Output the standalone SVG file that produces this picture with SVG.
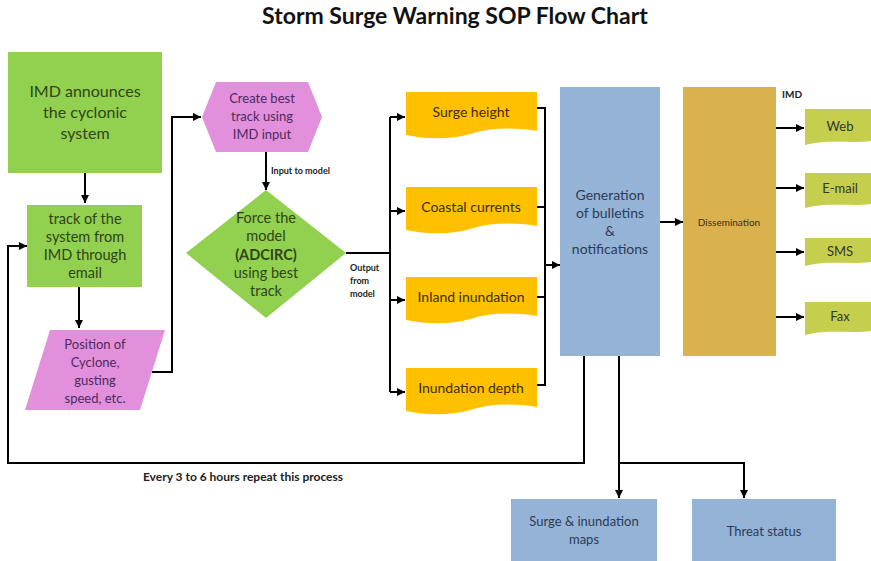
<svg xmlns="http://www.w3.org/2000/svg" width="871" height="561" viewBox="0 0 871 561">
<defs>
<marker id="ah" viewBox="0 0 10 10" refX="10" refY="5" markerWidth="8" markerHeight="8" markerUnits="userSpaceOnUse" orient="auto">
<path d="M0,0 L10,5 L0,10 z" fill="#000"/>
</marker>
<style>
text{font-family:Lato,"Open Sans","Liberation Sans",sans-serif;text-anchor:middle}
.c{fill:none;stroke:#000;stroke-width:2}
.a{marker-end:url(#ah)}
.g{fill:#92d050}
.gt{fill:#2f4419;font-size:14.5px}
.p{fill:#e290dc}
.pt{fill:#4b2a5e;font-size:13px}
.y{fill:#ffc000}
.yt{fill:#3a2f00;font-size:14px}
.b{fill:#95b3d7}
.bt{fill:#2b3b55;font-size:14px}
.o{fill:#c6cf4d}
.ot{fill:#333;font-size:13px}
.sm{font-size:9px;font-weight:bold;fill:#222;text-anchor:start}
</style>
</defs>
<rect width="871" height="561" fill="#fff"/>
<text x="455" y="24" style="font-size:23px;font-weight:bold" fill="#111">Storm Surge Warning SOP Flow Chart</text>

<g id="connectors">
<line class="c a" x1="85" y1="173" x2="85" y2="203"/>
<line class="c a" x1="79" y1="287" x2="79" y2="328"/>
<polyline class="c a" points="152,372 172,372 172,117 201,117"/>
<line class="c a" x1="266" y1="152" x2="266" y2="190"/>
<polyline class="c" points="346,253 390,253"/>
<line class="c" x1="390" y1="117" x2="390" y2="392"/>
<line class="c a" x1="390" y1="117" x2="405" y2="117"/>
<line class="c a" x1="390" y1="211" x2="405" y2="211"/>
<line class="c a" x1="390" y1="300" x2="405" y2="300"/>
<line class="c a" x1="390" y1="392" x2="405" y2="392"/>
<line class="c" x1="537" y1="108" x2="545" y2="108"/>
<line class="c" x1="537" y1="207" x2="545" y2="207"/>
<line class="c" x1="537" y1="297" x2="545" y2="297"/>
<line class="c" x1="537" y1="385" x2="545" y2="385"/>
<line class="c" x1="545" y1="107" x2="545" y2="386"/>
<line class="c a" x1="545" y1="265" x2="560" y2="265"/>
<line class="c a" x1="660" y1="222" x2="683" y2="222"/>
<line class="c a" x1="776" y1="128" x2="804" y2="128"/>
<line class="c a" x1="776" y1="188" x2="804" y2="188"/>
<line class="c a" x1="776" y1="252" x2="804" y2="252"/>
<line class="c a" x1="776" y1="317" x2="804" y2="317"/>
<polyline class="c a" points="584,356 584,463 8,463 8,246 27,246"/>
<line class="c a" x1="619" y1="356" x2="619" y2="498"/>
<polyline class="c a" points="619,463 744,463 744,498"/>
<text class="sm" x="271" y="174">Input to model</text>
<text class="sm" x="350" y="271">Output</text>
<text class="sm" x="350" y="284">from</text>
<text class="sm" x="350" y="297">model</text>
<text x="243" y="481" style="font-size:12px;font-weight:bold" fill="#222">Every 3 to 6 hours repeat this process</text>
<text x="792" y="98" style="font-size:10px;font-weight:bold" fill="#222">IMD</text>
</g>

<g id="n1">
<rect class="g" x="8" y="52" width="154" height="121"/>
<text class="gt" style="font-size:16px" x="85" y="97">IMD announces</text>
<text class="gt" style="font-size:16px" x="85" y="118">the cyclonic</text>
<text class="gt" style="font-size:16px" x="85" y="139">system</text>
</g>

<g id="n2">
<rect class="g" x="27" y="205" width="115" height="82"/>
<text class="gt" x="85" y="224">track of the</text>
<text class="gt" x="85" y="242">system from</text>
<text class="gt" x="85" y="260">IMD through</text>
<text class="gt" x="85" y="278">email</text>
</g>

<g id="n3">
<polygon class="p" points="50,330 165,330 140,410 25,410"/>
<text class="pt" x="95" y="349">Position of</text>
<text class="pt" x="95" y="367">Cyclone,</text>
<text class="pt" x="95" y="385">gusting</text>
<text class="pt" x="95" y="403">speed, etc.</text>
</g>

<g id="n4">
<polygon class="p" points="202,117 216,82 308,82 322,117 308,152 216,152"/>
<text class="pt" x="262" y="103">Create best</text>
<text class="pt" x="262" y="121">track using</text>
<text class="pt" x="262" y="139">IMD input</text>
</g>

<g id="n5">
<polygon class="g" points="266,190 346,253 266,318 186,253"/>
<text class="gt" x="266" y="223">Force the</text>
<text class="gt" x="266" y="241">model</text>
<text class="gt" x="266" y="260" style="font-weight:bold">(ADCIRC)</text>
<text class="gt" x="266" y="278">using best</text>
<text class="gt" x="266" y="296">track</text>
</g>

<g id="n6">
<path class="y" d="M406,92 H537 V131 C510,127 490,128 470,134 C450,140 425,139 406,135 Z"/>
<text class="yt" x="471" y="117">Surge height</text>
</g>
<g id="n7">
<path class="y" d="M406,187 H537 V226 C510,222 490,223 470,229 C450,235 425,234 406,230 Z"/>
<text class="yt" x="471" y="212">Coastal currents</text>
</g>
<g id="n8">
<path class="y" d="M406,277 H537 V316 C510,312 490,313 470,319 C450,325 425,324 406,320 Z"/>
<text class="yt" x="471" y="302">Inland inundation</text>
</g>
<g id="n9">
<path class="y" d="M406,368 H537 V407 C510,403 490,404 470,410 C450,416 425,415 406,411 Z"/>
<text class="yt" x="471" y="393">Inundation depth</text>
</g>

<g id="n10">
<rect class="b" x="560" y="87" width="100" height="269"/>
<text class="bt" x="610" y="200">Generation</text>
<text class="bt" x="610" y="218">of bulletins</text>
<text class="bt" x="610" y="236">&amp;</text>
<text class="bt" x="610" y="254">notifications</text>
</g>

<g id="n11">
<rect x="683" y="87" width="93" height="269" fill="#d9b24e"/>
<text x="729" y="226" style="font-size:10px" fill="#3a2e10">Dissemination</text>
</g>

<g id="n12">
<path class="o" d="M805,109 H871 V141 C850,144 830,139 805,145 Z"/>
<text class="ot" x="840" y="131">Web</text>
</g>
<g id="n13">
<path class="o" d="M805,173 H871 V204 C850,207 830,202 805,208 Z"/>
<text class="ot" x="840" y="193">E-mail</text>
</g>
<g id="n14">
<path class="o" d="M805,238 H871 V262 C850,265 830,260 805,266 Z"/>
<text class="ot" x="840" y="256">SMS</text>
</g>
<g id="n15">
<path class="o" d="M805,302 H871 V331 C850,334 830,329 805,335 Z"/>
<text class="ot" x="840" y="321">Fax</text>
</g>

<g id="n16">
<rect class="b" x="511" y="499" width="146" height="62"/>
<text class="bt" x="584" y="526" style="font-size:13px">Surge &amp; inundation</text>
<text class="bt" x="584" y="544" style="font-size:13px">maps</text>
</g>
<g id="n17">
<rect class="b" x="692" y="499" width="144" height="62"/>
<text class="bt" x="764" y="536" style="font-size:13px">Threat status</text>
</g>
</svg>
